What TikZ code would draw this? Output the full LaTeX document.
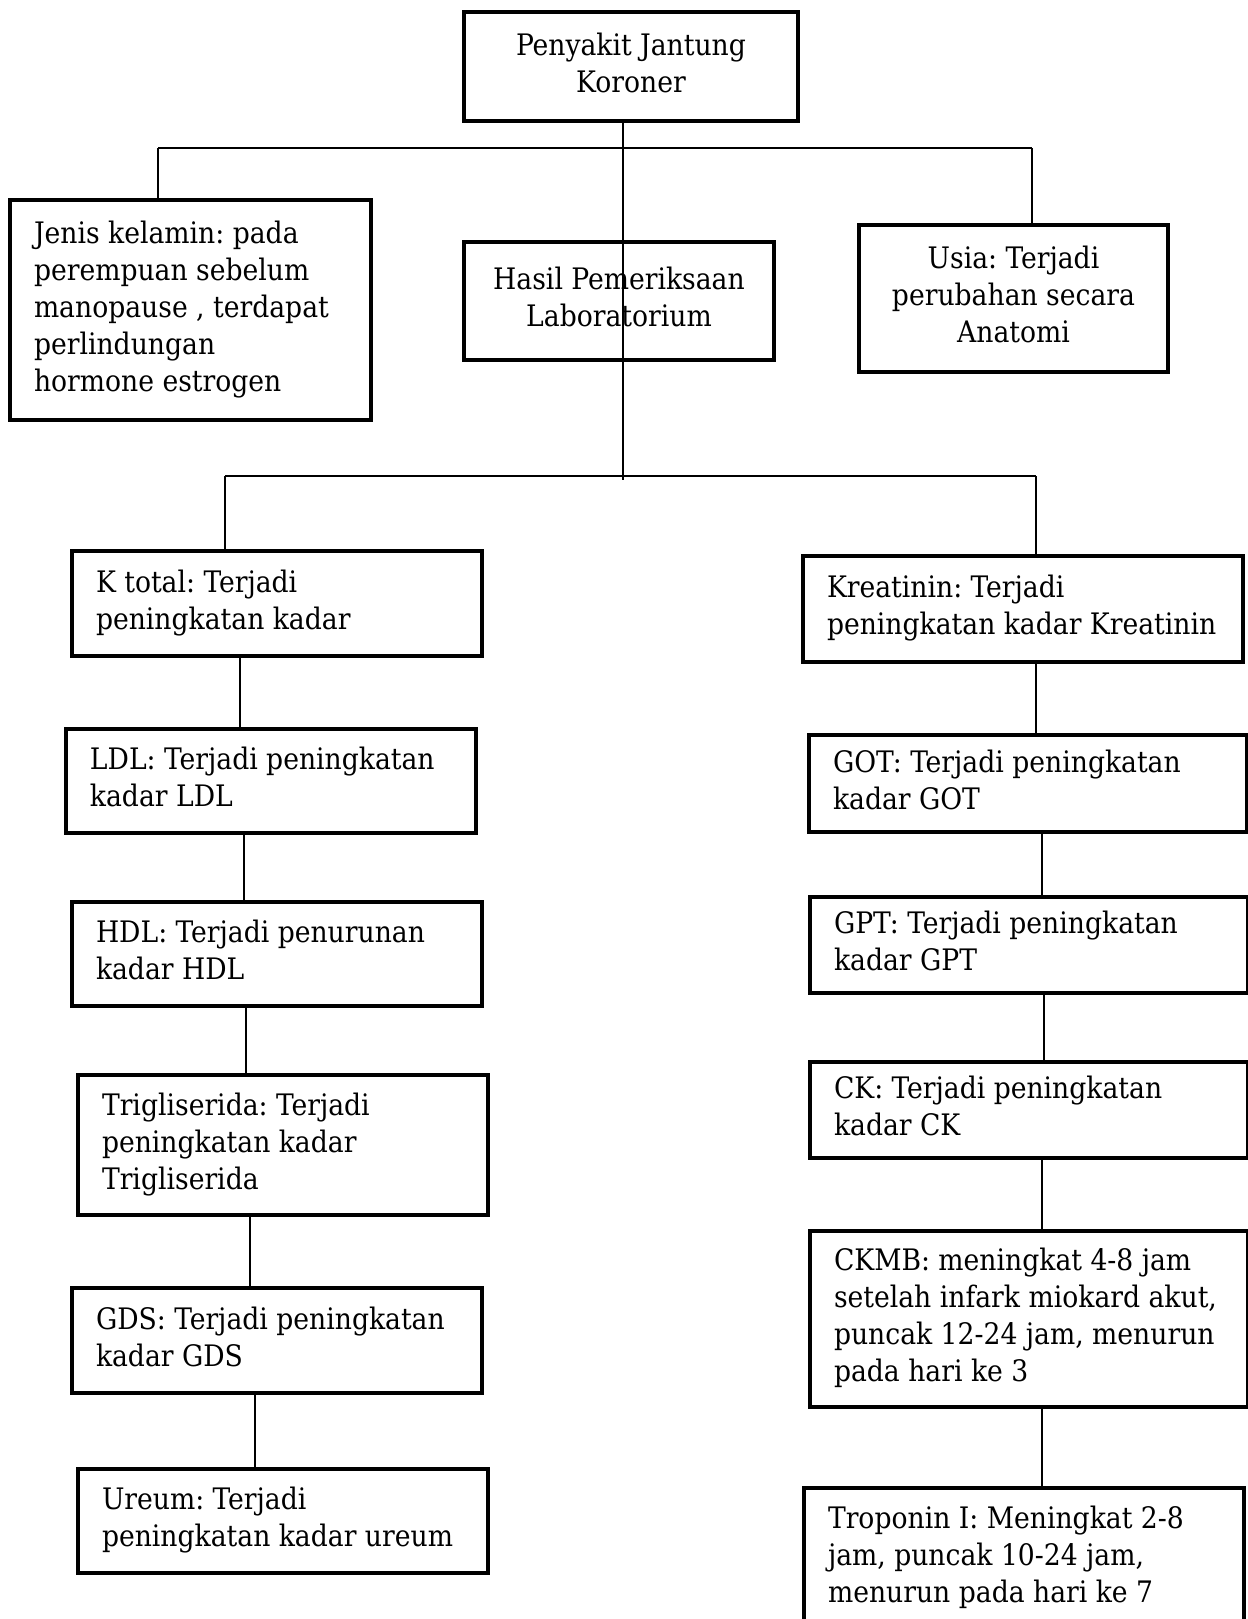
\documentclass[tikz,border=0pt]{standalone}
\usepackage{fontspec}
\setmainfont{DejaVu Serif Condensed}
\frenchspacing
\newcommand\boxtxt[3]{\makebox[#1][#2]{\begin{tabular}{@{}#2@{}}#3\end{tabular}}}
\begin{document}
\begin{tikzpicture}[x=0.5pt,y=-0.5pt,
  bx/.style={draw, line width=2pt, inner xsep=12pt, inner ysep=0pt, anchor=north west,
    font=\fontsize{14.8}{18.5}\selectfont\frenchspacing},
  ln/.style={line width=0.8pt}]
\useasboundingbox (0,0) rectangle (1248,1619);
% top level
\node[bx, minimum height=54.5pt] (top) at (462,10) {\boxtxt{143pt}{c}{Penyakit Jantung\\Koroner}};
\node[bx, minimum height=110pt] (jenis) at (8,198) {\boxtxt{156.5pt}{l}{Jenis kelamin: pada\\perempuan sebelum\\manopause , terdapat\\perlindungan\\hormone estrogen}};
\node[bx, minimum height=59pt] (hasil) at (462,240) {\boxtxt{131pt}{c}{Hasil Pemeriksaan\\Laboratorium}};
\node[bx, minimum height=73.5pt] (usia) at (857,223) {\boxtxt{130.5pt}{c}{Usia: Terjadi\\perubahan secara\\Anatomi}};
% left column
\node[bx, minimum height=52.5pt] (ktot) at (70,549) {\boxtxt{181pt}{l}{K total: Terjadi\\peningkatan kadar}};
\node[bx, minimum height=52pt] (ldl) at (64,727) {\boxtxt{181pt}{l}{LDL: Terjadi peningkatan\\kadar LDL}};
\node[bx, minimum height=52pt] (hdl) at (70,900) {\boxtxt{181pt}{l}{HDL: Terjadi penurunan\\kadar HDL}};
\node[bx, minimum height=70pt] (trig) at (76,1073) {\boxtxt{181pt}{l}{Trigliserida: Terjadi\\peningkatan kadar\\Trigliserida}};
\node[bx, minimum height=52.5pt] (gds) at (70,1286) {\boxtxt{181pt}{l}{GDS: Terjadi peningkatan\\kadar GDS}};
\node[bx, minimum height=52pt] (ureum) at (76,1467) {\boxtxt{181pt}{l}{Ureum: Terjadi\\peningkatan kadar ureum}};
% right column
\node[bx, minimum height=53pt] (kreat) at (801,554) {\boxtxt{196pt}{l}{Kreatinin: Terjadi\\peningkatan kadar Kreatinin}};
\node[bx, minimum height=48.5pt] (got) at (807,733) {\boxtxt{195pt}{l}{GOT: Terjadi peningkatan\\kadar GOT}};
\node[bx, minimum height=48pt] (gpt) at (808,895) {\boxtxt{195pt}{l}{GPT: Terjadi peningkatan\\kadar GPT}};
\node[bx, minimum height=48pt] (ck) at (808,1060) {\boxtxt{195pt}{l}{CK: Terjadi peningkatan\\kadar CK}};
\node[bx, minimum height=88pt] (ckmb) at (808,1229) {\boxtxt{195pt}{l}{CKMB: meningkat 4-8 jam\\setelah infark miokard akut,\\puncak 12-24 jam, menurun\\pada hari ke 3}};
\node[bx, minimum height=70pt] (trop) at (802,1486) {\boxtxt{196pt}{l}{Troponin I: Meningkat 2-8\\jam, puncak 10-24 jam,\\menurun pada hari ke 7}};
% junction coordinates
\coordinate (c1) at (623,148);
\coordinate (c1l) at (158,148);
\coordinate (c1r) at (1032,148);
\coordinate (c2) at (623,480);
\coordinate (c2l) at (225,476);
\coordinate (c2r) at (1036,476);
\coordinate (xa) at (240,0);
\coordinate (xb) at (244,0);
\coordinate (xc) at (246,0);
\coordinate (xd) at (250,0);
\coordinate (xe) at (255,0);
\coordinate (ya) at (1036,0);
\coordinate (yb) at (1042,0);
\coordinate (yc) at (1044,0);
% connectors
\draw[ln] (c1l) -- (c1r);
\draw[ln] (top.south -| c1) -- (c2);
\draw[ln] (c1l) -- (c1l |- jenis.north);
\draw[ln] (c1r) -- (c1r |- usia.north);
\draw[ln] (c2l) -- (c2r);
\draw[ln] (c2l) -- (c2l |- ktot.north);
\draw[ln] (c2r) -- (c2r |- kreat.north);
\draw[ln] (ktot.south -| xa) -- (ldl.north -| xa);
\draw[ln] (ldl.south -| xb) -- (hdl.north -| xb);
\draw[ln] (hdl.south -| xc) -- (trig.north -| xc);
\draw[ln] (trig.south -| xd) -- (gds.north -| xd);
\draw[ln] (gds.south -| xe) -- (ureum.north -| xe);
\draw[ln] (kreat.south -| ya) -- (got.north -| ya);
\draw[ln] (got.south -| yb) -- (gpt.north -| yb);
\draw[ln] (gpt.south -| yc) -- (ck.north -| yc);
\draw[ln] (ck.south -| yb) -- (ckmb.north -| yb);
\draw[ln] (ckmb.south -| yb) -- (trop.north -| yb);
\end{tikzpicture}
\end{document}
